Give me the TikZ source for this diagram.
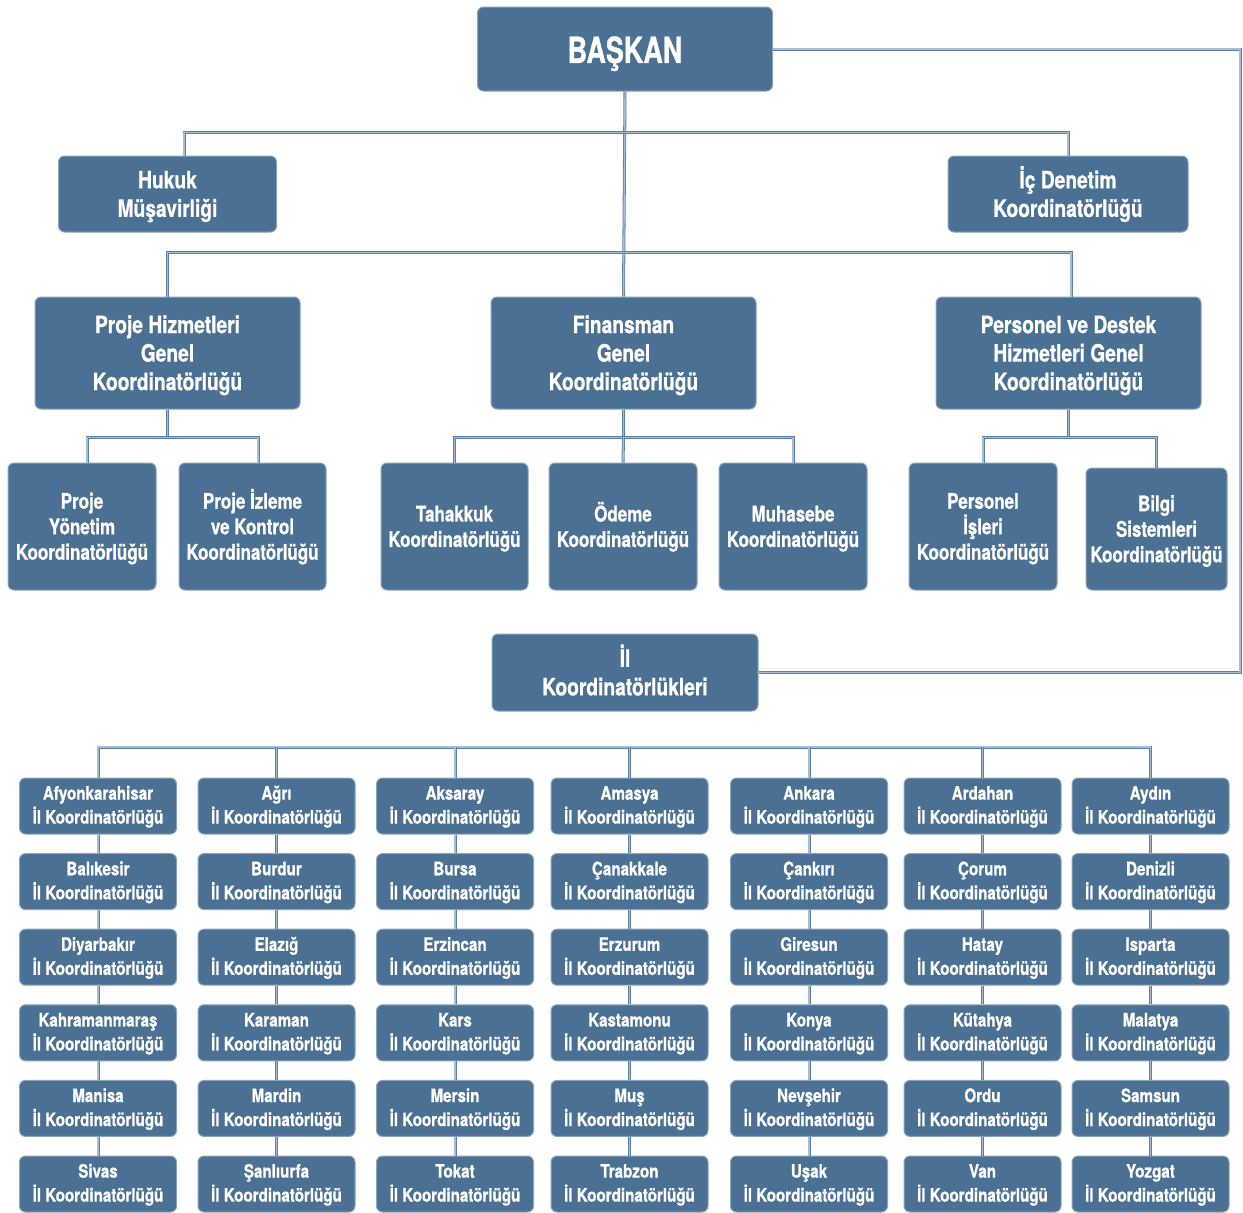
\documentclass[tikz,border=0pt]{standalone}
\usepackage{fontspec}
\newfontfamily\condA{TeX Gyre Heros}[FakeStretch=0.75, BoldFeatures={FakeStretch=0.75, FakeBold=0.8}]
\newfontfamily\condB{TeX Gyre Heros}[FakeStretch=0.80, BoldFeatures={FakeStretch=0.80, FakeBold=0.8}]
\newfontfamily\condC{TeX Gyre Heros}[FakeStretch=0.79, BoldFeatures={FakeStretch=0.79, FakeBold=0.8}]
\newfontfamily\condD{TeX Gyre Heros}[FakeStretch=0.82, BoldFeatures={FakeStretch=0.82, FakeBold=0.8}]
\definecolor{boxblue}{HTML}{4A7094}
\definecolor{boxedge}{HTML}{8AA4C0}
\definecolor{lineouter}{HTML}{5A7FA6}
\definecolor{lineinner}{HTML}{A9BDD4}
\def\tsh{0pt}
\newcommand\mystrtA{\rule{0pt}{\dimexpr0.95em+\tsh\relax}}
\newcommand\mystrtB{\rule[-0.23em]{0pt}{0.23em}}
\begin{document}
\begin{tikzpicture}[x=1pt,y=-1pt,
  box/.style={fill=boxblue, draw=boxedge, line width=1pt, rounded corners=6pt,
    text=white, align=center, inner sep=0pt},
  bigtxt/.style={font=\condA\bfseries\fontsize{36}{40}\selectfont\def\tsh{2pt}},
  lvtxt/.style={font=\condB\bfseries\fontsize{24}{28.5}\selectfont\def\tsh{0pt}},
  subtxt/.style={font=\condC\bfseries\fontsize{21.5}{25.5}\selectfont\def\tsh{0pt}},
  smalltxt/.style={font=\condD\bfseries\fontsize{18.5}{24}\selectfont\def\tsh{-2pt}},
  conn/.style={draw=lineouter, double=lineinner, line width=0.8pt, double distance=1.4pt}]
\useasboundingbox (0,0) rectangle (1243,1213);

% top levels
\node[box, bigtxt, minimum width=295, minimum height=84] (bas) at (625,49) {\mystrtA BAŞKAN\mystrtB};
\node[box, lvtxt, minimum width=218, minimum height=76] (huk) at (167.5,194) {\mystrtA Hukuk\\Müşavirliği\mystrtB};
\node[box, lvtxt, minimum width=240, minimum height=76] (icd) at (1068,194) {\mystrtA İç Denetim\\Koordinatörlüğü\mystrtB};
\node[box, lvtxt, minimum width=265, minimum height=112] (phg) at (167.5,353) {\mystrtA Proje Hizmetleri\\Genel\\Koordinatörlüğü\mystrtB};
\node[box, lvtxt, minimum width=265, minimum height=112] (fin) at (623.5,353) {\mystrtA Finansman\\Genel\\Koordinatörlüğü\mystrtB};
\node[box, lvtxt, minimum width=265, minimum height=112] (pdh) at (1068.5,353) {\mystrtA Personel ve Destek\\Hizmetleri Genel\\Koordinatörlüğü\mystrtB};

% third level
\node[box, subtxt, minimum width=148, minimum height=127] (pyk) at (82,526.5) {\mystrtA Proje\\Yönetim\\Koordinatörlüğü\mystrtB};
\node[box, subtxt, minimum width=147, minimum height=127] (pik) at (252.5,526.5) {\mystrtA Proje İzleme\\ve Kontrol\\Koordinatörlüğü\mystrtB};
\node[box, subtxt, minimum width=147, minimum height=127] (tah) at (454.5,526.5) {\mystrtA Tahakkuk\\Koordinatörlüğü\mystrtB};
\node[box, subtxt, minimum width=148, minimum height=127] (ode) at (623,526.5) {\mystrtA Ödeme\\Koordinatörlüğü\mystrtB};
\node[box, subtxt, minimum width=148, minimum height=127] (muh) at (793,526.5) {\mystrtA Muhasebe\\Koordinatörlüğü\mystrtB};
\node[box, subtxt, minimum width=148, minimum height=127] (per) at (983,526.5) {\mystrtA Personel\\İşleri\\Koordinatörlüğü\mystrtB};
\node[box, subtxt, minimum width=141, minimum height=122] (bil) at (1156.5,529) {\mystrtA Bilgi\\Sistemleri\\Koordinatörlüğü\mystrtB};

% il koordinatorlukleri
\node[box, lvtxt, minimum width=266, minimum height=77] (il) at (625,672.5) {\mystrtA İl\\Koordinatörlükleri\mystrtB};

% connectors, upper part
\coordinate (rc) at (1240,49);
\draw[conn] (bas.south) -- (fin.north);
\draw[conn] ([xshift=16.5pt]huk.north) -- ++(0,-23) -| (icd.north);
\draw[conn] (phg.north) -- ++(0,-44) -| ([xshift=2.5pt]pdh.north);
\draw[conn] (fin.south) -- ++(0,28) coordinate (fj);
\draw[conn] (tah.north) |- (fj) -| (muh.north);
\draw[conn] (fj) -- (ode.north);
\draw[conn] (phg.south) -- ++(0,28) coordinate (pj);
\draw[conn] ([xshift=5pt]pyk.north) |- (pj) -| ([xshift=5.5pt]pik.north);
\draw[conn] (pdh.south) -- ++(0,28) coordinate (dj);
\draw[conn] (per.north) |- (dj) -| (bil.north);
\draw[conn] (bas.east) -- (rc) |- (il.east);

% provinces
\coordinate (bus) at (0,747);
\foreach [count=\r] \rowlist in {
  {Afyonkarahisar,Ağrı,Aksaray,Amasya,Ankara,Ardahan,Aydın},
  {Balıkesir,Burdur,Bursa,Çanakkale,Çankırı,Çorum,Denizli},
  {Diyarbakır,Elazığ,Erzincan,Erzurum,Giresun,Hatay,Isparta},
  {Kahramanmaraş,Karaman,Kars,Kastamonu,Konya,Kütahya,Malatya},
  {Manisa,Mardin,Mersin,Muş,Nevşehir,Ordu,Samsun},
  {Sivas,Şanlıurfa,Tokat,Trabzon,Uşak,Van,Yozgat}} {
  \foreach [count=\c] \nm in \rowlist {
    \pgfmathsetmacro\cx{{98,276.5,455,629.5,809,982.5,1150.5}[\c-1]}
    \pgfmathsetmacro\cy{806+(\r-1)*75.6}
    \node[box, smalltxt, minimum width=157, minimum height=56] (p-\c-\r) at (\cx,\cy) {\mystrtA\nm\\İl Koordinatörlüğü\mystrtB};
  }
}
\draw[conn] (p-1-1.north) -- (p-1-1.north |- bus) -- (p-7-1.north |- bus) -- (p-7-1.north);
\foreach \c in {2,...,6} {
  \draw[conn] (p-\c-1.north) -- (p-\c-1.north |- bus);
}
\foreach \c in {1,...,7} {
  \foreach \r [evaluate=\r as \rn using int(\r+1)] in {1,...,5} {
    \draw[conn] (p-\c-\r.south) -- (p-\c-\rn.north);
  }
}
\end{tikzpicture}
\end{document}
